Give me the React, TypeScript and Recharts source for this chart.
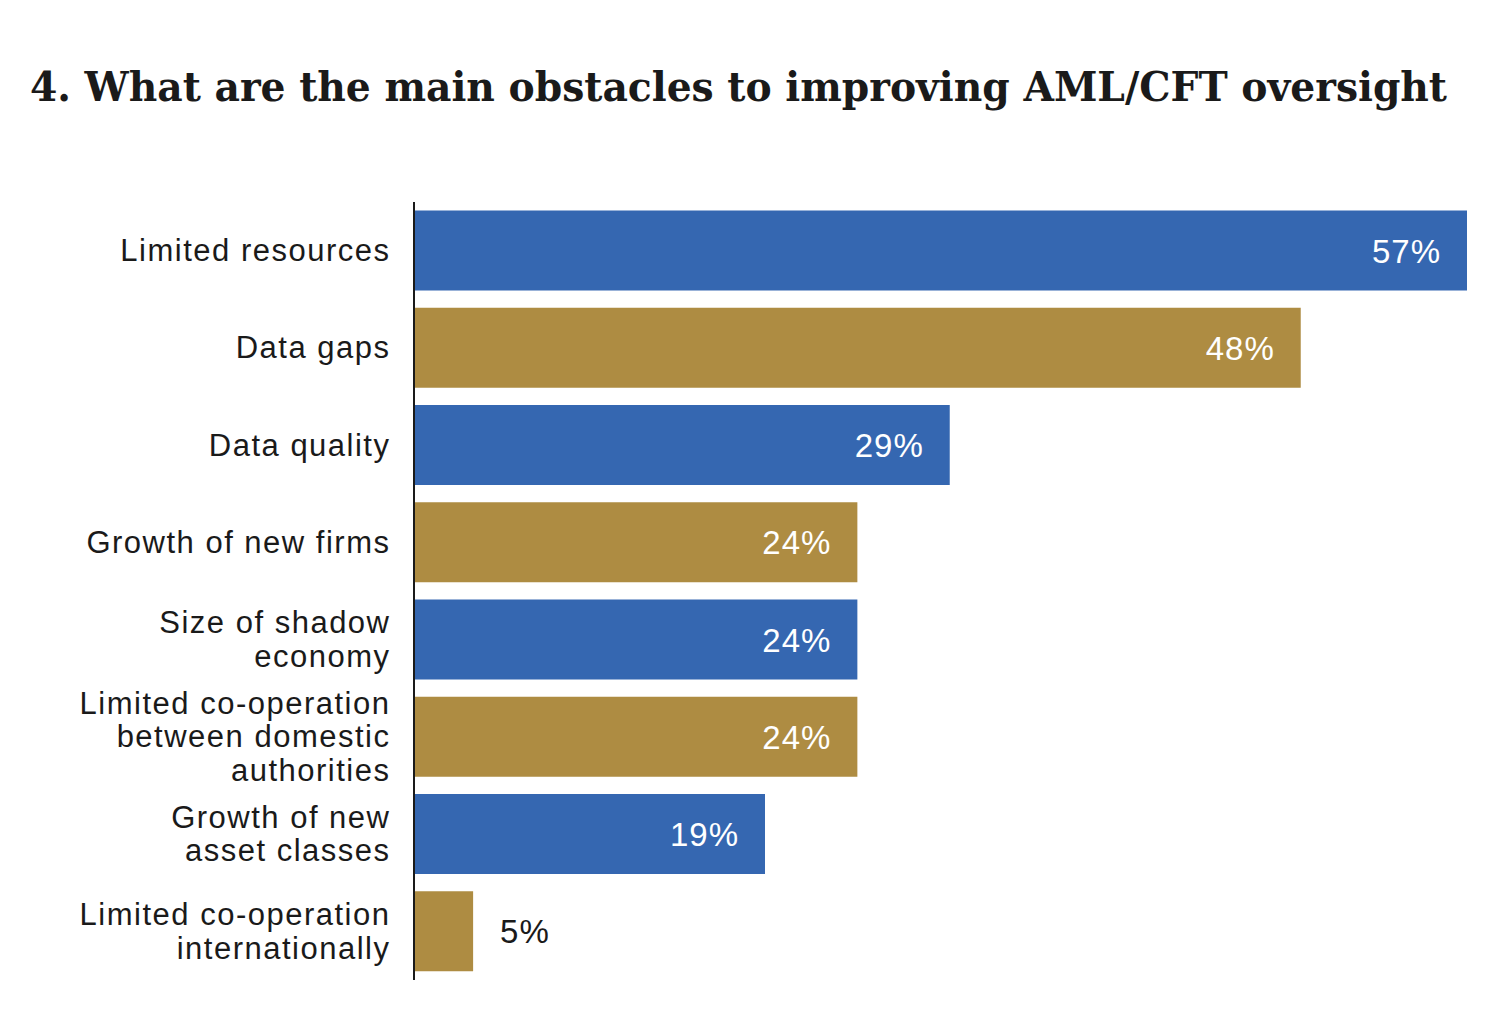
import { Bar, BarChart, Cell, LabelList, XAxis, YAxis } from "recharts";

const title = "4. What are the main obstacles to improving AML/CFT oversight";

const categories = [
  "Limited resources",
  "Data gaps",
  "Data quality",
  "Growth of new firms",
  "Size of shadow|economy",
  "Limited co-operation|between domestic|authorities",
  "Growth of new|asset classes",
  "Limited co-operation|internationally"
];

// bar lengths as drawn; the last bar is drawn shorter than its printed label
const values = [57, 48, 29, 24, 24, 24, 19, 3.2];
const valueLabels = ["57%", "48%", "29%", "24%", "24%", "24%", "19%", "5%"];

const colors = ["#3567b1", "#ae8c42"];

const data = categories.map((name, index) => ({
  name,
  value: values[index],
  text: valueLabels[index]
}));

const font = "'Liberation Sans', Arial, Helvetica, sans-serif";

function CategoryTick({ x, y, payload }: { x?: number; y?: number; payload?: { value: string } }) {
  const lines = String(payload?.value ?? "").split("|");
  const lineHeight = 33.5;
  return (
    <g>
      {lines.map((line, index) => (
        <text
          key={line}
          x={(x ?? 0) + 1.5}
          y={(y ?? 0) + (index - (lines.length - 1) / 2) * lineHeight + 10.5}
          textAnchor="end"
          fontFamily={font}
          fontSize={31}
          letterSpacing={1.5}
          fill="#1a1a1a"
        >
          {line}
        </text>
      ))}
    </g>
  );
}

function ValueLabel(props: { x?: number; y?: number; width?: number; height?: number; value?: string }) {
  const x = Number(props.x ?? 0);
  const y = Number(props.y ?? 0);
  const width = Number(props.width ?? 0);
  const height = Number(props.height ?? 0);
  const inside = width > 120;
  return (
    <text
      x={inside ? x + width - 26 : x + width + 27}
      y={y + height / 2 + 12}
      textAnchor={inside ? "end" : "start"}
      fontFamily={font}
      fontSize={33}
      letterSpacing={1}
      fill={inside ? "#ffffff" : "#1a1a1a"}
    >
      {props.value}
    </text>
  );
}

export default function App() {
  return (
    <div style={{ position: "absolute", left: 0, top: 0, width: 1500, height: 1014, background: "#fff" }}>
      <svg width={1500} height={160} style={{ position: "absolute", left: 0, top: 0 }}>
        <text
          x={30}
          y={101}
          textLength={1417}
          lengthAdjust="spacingAndGlyphs"
          fontFamily="'DejaVu Serif Condensed', 'DejaVu Serif', serif"
          fontStretch="condensed"
          fontWeight="bold"
          fontSize={41}
          fill="#1a1a1a"
        >
          {title}
        </text>
      </svg>
      <div style={{ position: "absolute", left: 0, top: 0 }}>
        <BarChart
          width={1500}
          height={1000}
          data={data}
          layout="vertical"
          margin={{ top: 202, right: 33, bottom: 20, left: 0 }}
          barCategoryGap={8.6}
        >
          <XAxis type="number" domain={[0, 57]} hide />
          <YAxis
            type="category"
            dataKey="name"
            width={414}
            tickSize={0}
            tickMargin={25}
            axisLine={{ stroke: "#1a1a1a", strokeWidth: 2 }}
            tickLine={false}
            tick={<CategoryTick />}
            interval={0}
          />
          <Bar dataKey="value" isAnimationActive={false}>
            {data.map((_, index) => (
              <Cell key={index} fill={colors[index % colors.length]} />
            ))}
            <LabelList dataKey="text" content={<ValueLabel />} />
          </Bar>
        </BarChart>
      </div>
    </div>
  );
}
